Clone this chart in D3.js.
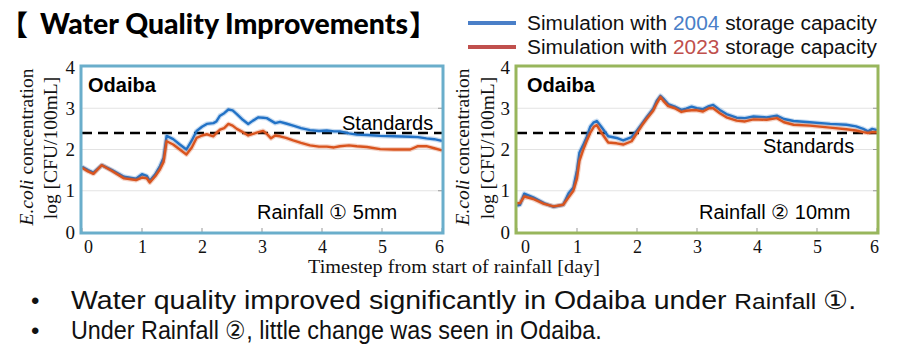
<!DOCTYPE html>
<html><head><meta charset="utf-8">
<script src="https://cdn.jsdelivr.net/npm/d3@7"></script>
<style>body{margin:0;background:#fff}svg{display:block}</style>
</head><body>
<svg id="chart" width="907" height="361"></svg>
<script>
// ---- data ----
const seriesNames = ["Simulation with 2004 storage capacity", "Simulation with 2023 storage capacity"];
const xTicks = [0,1,2,3,4,5,6];
const yTicks = [0,1,2,3,4];
const standardValue = 2.4;

const t1 = [0,0.1,0.19,0.33,0.5,0.7,0.9,1.0,1.08,1.13,1.22,1.30,1.36,1.41,1.52,1.63,1.74,1.83,1.91,2.0,2.08,2.19,2.24,2.30,2.37,2.44,2.51,2.58,2.68,2.77,2.85,2.94,3.02,3.08,3.15,3.22,3.30,3.40,3.52,3.65,3.80,3.95,4.08,4.20,4.30,4.45,4.58,4.75,4.97,5.2,5.47,5.6,5.74,5.87,6.0];
const rain1_2004 = [1.58,1.50,1.44,1.62,1.50,1.34,1.29,1.40,1.36,1.24,1.40,1.60,1.80,2.33,2.25,2.12,2.00,2.22,2.45,2.55,2.62,2.64,2.68,2.82,2.88,2.97,2.95,2.86,2.72,2.62,2.70,2.78,2.77,2.76,2.70,2.64,2.67,2.63,2.58,2.52,2.47,2.45,2.46,2.44,2.44,2.39,2.36,2.35,2.33,2.32,2.31,2.30,2.27,2.25,2.21];
const rain1_2023 = [1.56,1.47,1.41,1.62,1.48,1.30,1.26,1.32,1.30,1.20,1.35,1.52,1.70,2.20,2.12,2.00,1.88,2.05,2.28,2.34,2.37,2.32,2.40,2.48,2.52,2.62,2.58,2.50,2.42,2.34,2.38,2.42,2.45,2.38,2.27,2.34,2.32,2.28,2.22,2.16,2.10,2.07,2.07,2.05,2.08,2.10,2.08,2.06,2.01,2.00,2.00,2.08,2.08,2.03,1.98];

const t2 = [0,0.05,0.12,0.27,0.45,0.61,0.77,0.86,0.94,1.0,1.04,1.10,1.16,1.22,1.28,1.33,1.41,1.52,1.66,1.77,1.91,2.0,2.08,2.16,2.27,2.33,2.39,2.45,2.52,2.63,2.74,2.82,2.91,3.0,3.1,3.2,3.27,3.38,3.49,3.66,3.80,3.94,4.16,4.33,4.45,4.61,4.88,5.22,5.49,5.65,5.77,5.85,5.92,6.0];
const rain2_2004 = [0.64,0.66,0.93,0.84,0.70,0.61,0.66,0.94,1.08,1.50,1.92,2.10,2.30,2.55,2.66,2.69,2.54,2.32,2.28,2.22,2.30,2.46,2.62,2.78,2.99,3.18,3.30,3.22,3.10,3.04,2.96,2.99,3.04,3.00,2.98,3.05,3.08,2.96,2.86,2.77,2.76,2.80,2.78,2.82,2.74,2.69,2.66,2.62,2.60,2.56,2.50,2.44,2.50,2.47];
const rain2_2023 = [0.70,0.70,0.86,0.80,0.68,0.62,0.66,0.84,1.00,1.30,1.72,1.98,2.20,2.40,2.55,2.59,2.40,2.17,2.15,2.12,2.20,2.40,2.58,2.74,2.94,3.12,3.27,3.16,3.05,3.00,2.91,2.94,2.95,2.95,2.92,3.00,3.00,2.88,2.78,2.70,2.68,2.73,2.72,2.76,2.66,2.60,2.58,2.53,2.49,2.46,2.42,2.40,2.42,2.42];

const bullets = ["Water quality improved significantly in Odaiba under ", "Under Rainfall ②, little change was seen in Odaiba."];

// ---- drawing ----
const svg = d3.select("#chart");
const serif = "'Liberation Serif','Times New Roman',serif";
const sans = "'Liberation Sans',Arial,sans-serif";
const lineBlue = "#2272c6", lineRed = "#d9541e";

const panels = [
  {x0:82, x1:442, t:t1, a:rain1_2004, b:rain1_2023, frame:"#6aaecb", std:{x:342,y:130}, rain:{x:257,text:"Rainfall ① 5mm"}, ytl:[33,57]},
  {x0:517, x1:877, t:t2, a:rain2_2004, b:rain2_2023, frame:"#98b65c", std:{x:763,y:153}, rain:{x:699,text:"Rainfall ② 10mm"}, ytl:[469,494]}
];
const y = d3.scaleLinear().domain([0,4]).range([232,67]);

panels.forEach((p,i)=>{
  const x = d3.scaleLinear().domain([0,6]).range([p.x0,p.x1]);
  const g = svg.append("g");
  g.selectAll(".grid").data([1,2,3]).enter().append("line")
    .attr("x1",p.x0).attr("x2",p.x1).attr("y1",d=>y(d)).attr("y2",d=>y(d))
    .attr("stroke","#e3e3e3").attr("stroke-width",1);
  g.selectAll(".tb").data(xTicks).enter().append("line")
    .attr("x1",d=>x(d)).attr("x2",d=>x(d)).attr("y1",y(0)).attr("y2",y(0)-4)
    .attr("stroke","#999").attr("stroke-width",1);
  g.selectAll(".tr").data([1,2,3]).enter().append("line")
    .attr("x1",p.x1).attr("x2",p.x1-4).attr("y1",d=>y(d)).attr("y2",d=>y(d))
    .attr("stroke","#999").attr("stroke-width",1);
  const ya = d3.axisLeft(y).tickValues(yTicks).tickSize(0).tickPadding(7).tickFormat(d3.format("d"));
  const yg = g.append("g").attr("transform",`translate(${p.x0},0)`).call(ya);
  yg.select(".domain").remove();
  yg.selectAll("text").attr("font-family",serif).attr("font-size",19).attr("fill","#111");
  const xa = d3.axisBottom(x).tickValues(xTicks).tickSize(0).tickPadding(8).tickFormat(d3.format("d"));
  const xg = g.append("g").attr("transform",`translate(0,${y(0)})`).call(xa);
  xg.select(".domain").remove();
  xg.selectAll("text").attr("font-family",serif).attr("font-size",18).attr("fill","#111")
    .attr("dx",d=> d===0 ? (i===0?6:8) : (d===6 ? -3 : 0));
  g.append("line").attr("x1",p.x0).attr("x2",p.x1).attr("y1",y(standardValue)).attr("y2",y(standardValue))
    .attr("stroke","#000").attr("stroke-width",2.6).attr("stroke-dasharray","10,6");
  const line = d3.line().x((d,k)=>x(p.t[k])).y(d=>y(d));
  [[p.a,lineBlue],[p.b,lineRed]].forEach(([vals,c])=>{
    g.append("path").datum(vals).attr("d",line).attr("fill","none")
      .attr("stroke",c).attr("stroke-opacity",0.25).attr("stroke-width",4.8).attr("stroke-linejoin","round");
    g.append("path").datum(vals).attr("d",line).attr("fill","none")
      .attr("stroke",c).attr("stroke-width",2.4).attr("stroke-linejoin","round");
  });
  g.append("rect").attr("x",p.x0-1).attr("y",66).attr("width",p.x1-p.x0+2).attr("height",167)
    .attr("fill","none").attr("stroke",p.frame).attr("stroke-width",3);
  g.append("text").attr("x",p.x0+6+(i?4:0)).attr("y",92).text("Odaiba")
    .attr("font-family",sans).attr("font-weight","bold").attr("font-size",20).attr("fill","#000");
  g.append("text").attr("x",p.std.x).attr("y",p.std.y).text("Standards")
    .attr("font-family",sans).attr("font-size",20).attr("fill","#000");
  g.append("text").attr("x",p.rain.x).attr("y",219).text(p.rain.text)
    .attr("font-family",sans).attr("font-size",20).attr("fill","#000");
  const yt1 = g.append("text").attr("transform",`translate(${p.ytl[0]},147) rotate(-90)`)
    .attr("text-anchor","middle").attr("font-family",serif).attr("font-size",19.5).attr("fill","#111");
  yt1.append("tspan").attr("font-style","italic").text("E.coli");
  yt1.append("tspan").text(" concentration");
  g.append("text").attr("transform",`translate(${p.ytl[1]},148) rotate(-90)`)
    .attr("text-anchor","middle").attr("font-family",serif).attr("font-size",19.5).attr("fill","#111")
    .text("log [CFU/100mL]");
});

// x title
svg.append("text").attr("x",308).attr("y",273)
  .attr("font-family",serif).attr("font-size",19).attr("fill","#111")
  .attr("textLength",292).attr("lengthAdjust","spacingAndGlyphs")
  .text("Timestep from start of rainfall [day]");

// title
const tf = "Lato,'Open Sans',sans-serif";
const cjk = "'Noto Sans CJK JP','Noto Sans CJK SC',sans-serif";
svg.append("text").attr("x",0).attr("y",36).text("【")
  .attr("font-family",cjk).attr("font-weight","bold").attr("font-size",28);
svg.append("text").attr("x",40).attr("y",34).text("Water Quality Improvements")
  .attr("font-family",tf).attr("font-weight","900").attr("font-size",28)
  .attr("textLength",368).attr("lengthAdjust","spacingAndGlyphs");
svg.append("text").attr("x",409).attr("y",36).text("】")
  .attr("font-family",cjk).attr("font-weight","bold").attr("font-size",28);

// legend
const legYears = ["2004","2023"], legCols = ["#4a7fc8","#c0504d"];
seriesNames.forEach((n,k)=>{
  const yy = [23,47][k];
  svg.append("line").attr("x1",468).attr("x2",516).attr("y1",yy).attr("y2",yy)
    .attr("stroke",legCols[k]).attr("stroke-width",4);
  const parts = n.split(legYears[k]);
  const t = svg.append("text").attr("x",527).attr("y",yy+7).attr("font-family",sans).attr("font-size",19.5).attr("fill","#111")
    .attr("textLength",350).attr("lengthAdjust","spacingAndGlyphs");
  t.append("tspan").text(parts[0]);
  t.append("tspan").attr("fill",legCols[k]).text(legYears[k]);
  t.append("tspan").text(parts[1]);
});

// bullets (condensed via horizontal scaling)
const bulletTargets = [786, 531];
[309,339].forEach((by,k)=>{
  svg.append("text").attr("x",31).attr("y",by).text("•").attr("font-family",sans).attr("font-size",24).attr("fill","#111");
  const gb = svg.append("g");
  const t = gb.append("text").attr("x",0).attr("y",0).attr("font-family",sans).attr("font-size",25.5).attr("fill","#111");
  t.append("tspan").text(bullets[k]);
  if(k===0){
    t.append("tspan").attr("font-size",22).text("Rainfall ");
    t.append("tspan").text("①.");
  }
  const w = t.node().getComputedTextLength();
  const s = bulletTargets[k] / w;
  gb.attr("transform",`translate(71,${by}) scale(${s},1)`);
});
</script>
</body></html>
